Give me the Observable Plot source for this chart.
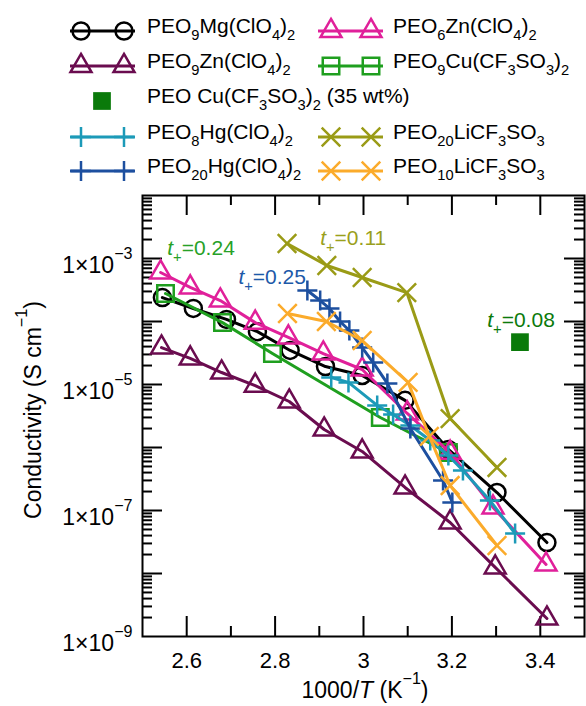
<!DOCTYPE html>
<html><head><meta charset="utf-8">
<script src="https://cdn.jsdelivr.net/npm/d3@7"></script>
<script src="https://cdn.jsdelivr.net/npm/@observablehq/plot@0.6"></script>
<style>
html,body{margin:0;padding:0;background:#fff;}
#chart{width:586px;height:706px;font-family:"Liberation Sans",Arial,Helvetica,sans-serif;}
#chart svg{display:block;}
</style></head>
<body><div id="chart"></div>
<script>
// ---------------- Data ----------------
const mgX   = [2.545, 2.615, 2.690, 2.760, 2.834, 2.914, 2.997, 3.094, 3.192, 3.302, 3.415];
const mgY   = [2.40e-4, 1.61e-4, 1.08e-4, 6.9e-5, 3.47e-5, 1.93e-5, 1.39e-5, 5.6e-6, 9.3e-7, 1.93e-7, 3.1e-8];
const zn6X  = [2.541, 2.608, 2.676, 2.755, 2.830, 2.909, 2.997, 3.099, 3.196, 3.293, 3.413];
const zn6Y  = [6.0e-4, 3.47e-4, 2.15e-4, 9.6e-5, 5.6e-5, 3.1e-5, 1.73e-5, 3.47e-6, 8.3e-7, 1.12e-7, 1.39e-8];
const zn9X  = [2.543, 2.608, 2.679, 2.755, 2.832, 2.911, 2.997, 3.094, 3.196, 3.298, 3.415];
const zn9Y  = [3.86e-5, 2.59e-5, 1.55e-5, 9.6e-6, 5.37e-6, 1.93e-6, 8.65e-7, 2.32e-7, 6.46e-8, 1.25e-8, 1.93e-9];
const cu9X  = [2.552, 2.681, 2.794, 3.038, 3.192];
const cu9Y  = [2.78e-4, 9.6e-5, 3.1e-5, 2.99e-6, 8.3e-7];
const cu35X = [3.354];
const cu35Y = [4.7e-5];
const hg8X  = [2.927, 2.966, 3.031, 3.067, 3.106, 3.151, 3.192, 3.225, 3.286, 3.343];
const hg8Y  = [1.29e-5, 1.08e-5, 4.65e-6, 3.34e-6, 2.23e-6, 1.29e-6, 7.46e-7, 4.32e-7, 1.44e-7, 4.32e-8];
const hg20X = [2.873, 2.902, 2.923, 2.947, 2.968, 2.997, 3.022, 3.054, 3.106, 3.180, 3.201];
const hg20Y = [3.1e-4, 2.15e-4, 1.61e-4, 1.0e-4, 7.2e-5, 3.86e-5, 2.23e-5, 1.04e-5, 2.0e-6, 2.99e-7, 1.34e-7];
const li20X = [2.827, 2.917, 2.997, 3.098, 3.196, 3.302];
const li20Y = [1.73e-3, 7.74e-4, 4.99e-4, 2.88e-4, 2.88e-6, 4.82e-7];
const li10X = [2.828, 2.916, 2.997, 3.101, 3.149, 3.196, 3.302];
const li10Y = [1.34e-4, 1.0e-4, 4.99e-5, 1.08e-5, 1.5e-6, 2.49e-7, 2.78e-8];

const seriesNames = ["PEO_{9}Mg(ClO_{4})_{2}", "PEO_{6}Zn(ClO_{4})_{2}", "PEO_{9}Zn(ClO_{4})_{2}",
  "PEO_{9}Cu(CF_{3}SO_{3})_{2}", "PEO Cu(CF_{3}SO_{3})_{2} (35 wt%)", "PEO_{8}Hg(ClO_{4})_{2}",
  "PEO_{20}LiCF_{3}SO_{3}", "PEO_{20}Hg(ClO_{4})_{2}", "PEO_{10}LiCF_{3}SO_{3}"];

const annText  = ["*t*_{+}=0.24", "*t*_{+}=0.25", "*t*_{+}=0.11", "*t*_{+}=0.08"];
const annX     = [2.556, 2.717, 2.902, 3.280];
const annY     = [1.44e-3, 4.99e-4, 2.08e-3, 1.04e-4];

const xMajor = [2.6, 2.8, 3.0, 3.2, 3.4];
const xMinor = [2.7, 2.9, 3.1, 3.3];
const yLabelTicks = [1e-3, 1e-5, 1e-7, 1e-9];
const yMajor = [1e-8, 1e-7, 1e-6, 1e-5, 1e-4, 1e-3];

// ---------------- Styles ----------------
const C = {mg:"#000000", zn6:"#e0209a", zn9:"#6a0c4f", cu9:"#1f9f1f", cu35:"#0a7a0a",
           hg8:"#1c9ab8", hg20:"#1d4f9f", li20:"#9a9b16", li10:"#fbab2b"};
const annColor = ["#27a127", "#1d59a8", "#9aa01c", "#0b7a0b"];

const series = [
  {key:"zn9",  x:zn9X,  y:zn9Y,  color:C.zn9,  symbol:"triangle2", r:10,  name:seriesNames[2]},
  {key:"mg",   x:mgX,   y:mgY,   color:C.mg,   symbol:"circle",    r:8.5, name:seriesNames[0]},
  {key:"cu9",  x:cu9X,  y:cu9Y,  color:C.cu9,  symbol:"square2",   r:10.5,name:seriesNames[3]},
  {key:"zn6",  x:zn6X,  y:zn6Y,  color:C.zn6,  symbol:"triangle2", r:10,  name:seriesNames[1]},
  {key:"hg8",  x:hg8X,  y:hg8Y,  color:C.hg8,  symbol:"plus",      r:6.5, name:seriesNames[5]},
  {key:"hg20", x:hg20X, y:hg20Y, color:C.hg20, symbol:"plus",      r:6.5, name:seriesNames[7]},
  {key:"li10", x:li10X, y:li10Y, color:C.li10, symbol:"times",     r:8.5, name:seriesNames[8]},
  {key:"li20", x:li20X, y:li20Y, color:C.li20, symbol:"times",     r:8.5, name:seriesNames[6]},
];
const rowsOf = s => s.x.map((x, i) => ({x, y: s.y[i]}));

// ---------------- rich text helper ----------------
function rich(el, str, fs) {
  while (el.firstChild) el.removeChild(el.firstChild);
  const parts = str.split(/(_\{[^}]*\}|\^\{[^}]*\}|\*[^*]+\*)/).filter(s => s !== "");
  let shift = 0;
  for (const p of parts) {
    const t = document.createElementNS("http://www.w3.org/2000/svg", "tspan");
    let target = 0, txt = p;
    if (p.startsWith("_{")) { txt = p.slice(2, -1); target = fs * 0.33; t.setAttribute("font-size", fs * 0.7); }
    else if (p.startsWith("^{")) { txt = p.slice(2, -1); target = -fs * 0.6; t.setAttribute("font-size", fs * 0.7); }
    else if (p.length > 2 && p.startsWith("*") && p.endsWith("*")) { txt = p.slice(1, -1); t.setAttribute("font-style", "italic"); }
    const dy = target - shift;
    if (dy) t.setAttribute("dy", dy);
    shift = target;
    t.textContent = txt;
    el.appendChild(t);
  }
}

// ---------------- Legend (above the plot) ----------------
const LH = 185;
const chart = d3.select("#chart");
const leg = chart.append("svg").attr("width", 586).attr("height", LH)
  .style("font-family", '"Liberation Sans",Arial,Helvetica,sans-serif');
const symMap = {circle:d3.symbolCircle, triangle2:d3.symbolTriangle2, square2:d3.symbolSquare2,
                plus:d3.symbolPlus, times:d3.symbolTimes, square:d3.symbolSquare};
const legendItems = [
  {s:"mg", col:0, row:0}, {s:"zn6", col:1, row:0},
  {s:"zn9", col:0, row:1}, {s:"cu9", col:1, row:1},
  {s:"cu35", col:0, row:2},
  {s:"hg8", col:0, row:3}, {s:"li20", col:1, row:3},
  {s:"hg20", col:0, row:4}, {s:"li10", col:1, row:4},
];
const colGeom = [{x0:70, x1:135, m0:81, m1:124, tx:147}, {x0:318, x1:383, m0:331, m1:371, tx:393}];
const rowBase = [33, 68, 103, 139, 173];
const LFS = 21;
for (const it of legendItems) {
  const g = colGeom[it.col], yb = rowBase[it.row], yc = yb - 2;
  const s = series.find(d => d.key === it.s);
  if (s) {
    leg.append("line").attr("x1", g.x0).attr("x2", g.x1).attr("y1", yc).attr("y2", yc)
      .attr("stroke", s.color).attr("stroke-width", 3);
    for (const mx of [g.m0, g.m1]) {
      leg.append("path").attr("d", d3.symbol(symMap[s.symbol], Math.PI * s.r * s.r)())
        .attr("transform", `translate(${mx},${yc})`)
        .attr("fill", "none").attr("stroke", s.color).attr("stroke-width", 2.5);
    }
    const t = leg.append("text").attr("x", g.tx).attr("y", yb).attr("font-size", LFS).node();
    rich(t, s.name, LFS);
  } else {
    leg.append("path").attr("d", d3.symbol(d3.symbolSquare, Math.PI * 100)())
      .attr("transform", `translate(102,${yc})`).attr("fill", C.cu35);
    const t = leg.append("text").attr("x", g.tx).attr("y", yb).attr("font-size", LFS).node();
    rich(t, seriesNames[4], LFS);
  }
}

// ---------------- Plot ----------------
const yMinor = [];
for (let e = -9; e < -2; e++) for (const m of [2, 3, 4, 5, 6, 7, 8, 9]) yMinor.push(m * Math.pow(10, e));

const W = 586, H = 706 - LH, mT = 10, mB = 70, mL = 142, mR = 2;
const iH = H - mT - mB, iW = W - mL - mR;
const tickStyle = {stroke: "black", strokeWidth: 2};

const marks = [];
// inward ticks on all four sides
marks.push(Plot.tickX(xMajor, {x: d => d, ...tickStyle, insetTop: iH - 20}));
marks.push(Plot.tickX(xMajor, {x: d => d, ...tickStyle, insetBottom: iH - 20}));
marks.push(Plot.tickX(xMinor, {x: d => d, ...tickStyle, insetTop: iH - 10}));
marks.push(Plot.tickX(xMinor, {x: d => d, ...tickStyle, insetBottom: iH - 10}));
marks.push(Plot.tickY(yMajor, {y: d => d, ...tickStyle, insetRight: iW - 20}));
marks.push(Plot.tickY(yMajor, {y: d => d, ...tickStyle, insetLeft: iW - 20}));
marks.push(Plot.tickY(yMinor, {y: d => d, ...tickStyle, insetRight: iW - 10}));
marks.push(Plot.tickY(yMinor, {y: d => d, ...tickStyle, insetLeft: iW - 10}));
marks.push(Plot.frame({stroke: "black", strokeWidth: 2}));

for (const s of series) {
  const rows = rowsOf(s);
  marks.push(Plot.line(rows, {x: "x", y: "y", stroke: s.color, strokeWidth: 3}));
  marks.push(Plot.dot(rows, {x: "x", y: "y", symbol: s.symbol, r: s.r, stroke: s.color, strokeWidth: 2.5, fill: "none"}));
}
marks.push(Plot.dot(cu35X.map((x, i) => ({x, y: cu35Y[i]})), {x: "x", y: "y", symbol: "square", r: 10, fill: C.cu35, stroke: "none"}));

annText.forEach((t, i) => {
  marks.push(Plot.text([i], {x: () => annX[i], y: () => annY[i], text: () => t, fill: annColor[i],
    textAnchor: "start", fontSize: 21}));
});

marks.push(Plot.axisX({ticks: xMajor, tickSize: 0, tickPadding: 16, label: null, fontSize: 22,
  tickFormat: d => String(+d.toFixed(1))}));
marks.push(Plot.axisY({ticks: yLabelTicks, tickSize: 0, tickPadding: 10, label: null, fontSize: 23, dy: 7,
  tickFormat: d => "1×10^{−" + Math.round(-Math.log10(d)) + "}"}));

const plotEl = Plot.plot({
  width: W, height: H, marginTop: mT, marginBottom: mB, marginLeft: mL, marginRight: mR,
  x: {domain: [2.5, 3.5]},
  y: {type: "log", domain: [1e-9, 1e-2]},
  style: {fontFamily: '"Liberation Sans",Arial,Helvetica,sans-serif', fontSize: "22px", color: "#000", background: "#fff", overflow: "visible"},
  marks
});
chart.node().appendChild(plotEl);

// rich text for tick labels and annotations
d3.select(plotEl).selectAll("text").each(function () {
  const s = this.textContent;
  if (/[_^]\{|\*/.test(s)) {
    const fs = parseFloat(getComputedStyle(this).fontSize) || 22;
    rich(this, s, fs);
  }
});

// axis titles
const ps = d3.select(plotEl);
const yl = ps.append("text").attr("transform", `translate(41,${410 - LH}) rotate(-90)`)
  .attr("text-anchor", "middle").attr("font-size", 23).attr("fill", "#000").node();
rich(yl, "Conductivity (S cm^{−1})", 23);
const xl = ps.append("text").attr("x", 365).attr("y", 698 - LH)
  .attr("text-anchor", "middle").attr("font-size", 23).attr("fill", "#000").node();
rich(xl, "1000/*T* (K^{−1})", 23);
</script>
</body></html>
